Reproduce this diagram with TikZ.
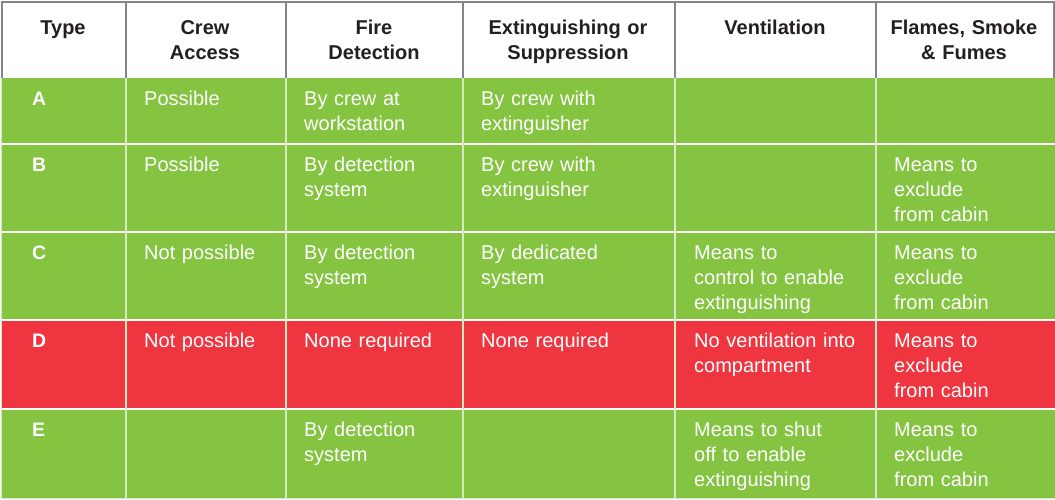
\documentclass[tikz,border=0pt]{standalone}
\usepackage{fontspec}
\setmainfont{Liberation Sans}
\definecolor{tgreen}{HTML}{84C441}
\definecolor{tred}{HTML}{EF3640}
\definecolor{tgray}{HTML}{858585}
\definecolor{tdark}{HTML}{231F20}
\definecolor{tsep}{HTML}{D3EBBE}
\begin{document}
\begin{tikzpicture}[x=1pt,y=-1pt,
  hdr/.style={font=\fontsize{20}{25}\selectfont\bfseries, text=tdark, align=center, anchor=base, inner sep=0pt, text width=#1},
  cell/.style={font=\fontsize{20}{25}\selectfont, text=white, align=left, anchor=base west, inner sep=0pt, text width=178pt},
  letter/.style={font=\fontsize{19.5}{25}\selectfont\bfseries, text=white, anchor=base west, inner sep=0pt},
  hline/.style={tgray, line width=1.3pt},
  bline/.style={white, line width=1.5pt},
  vline/.style={tsep, line width=1.5pt}]
\useasboundingbox (0,0) rectangle (1055,499);
\fill[white] (0,0) rectangle (1055,499);
% body fills
\fill[tgreen] (1,78) rectangle (1055,498);
\fill[tred] (1,320) rectangle (1055,409);
% body separators
\foreach \y in {144,232,320,409} \draw[bline] (1,\y) -- (1055,\y);
\foreach \x in {126,286,463,675,876} \draw[vline] (\x,78) -- (\x,498);
\draw[tsep, line width=1pt] (1.5,78) -- (1.5,498) -- (1055,498);
% header borders
\draw[hline] (2,78) -- (2,2) -- (1054,2) -- (1054,78);
\foreach \x in {126,286,463,675,876} \draw[hline] (\x,2) -- (\x,78);
% header texts
\node[hdr=120pt] (hType) at (63,34.5) {Type};
\node[hdr=156pt] (hCrew) at (205,34.5) {Crew\\Access};
\node[hdr=173pt] (hFire) at (374,34.5) {Fire\\Detection};
\node[hdr=208pt] (hExt) at (568,34.5) {Extinguishing or\\Suppression};
\node[hdr=196pt] (hVent) at (775,34.5) {Ventilation};
\node[hdr=176pt] (hFlame) at (964,34.5) {Flames, Smoke\\\& Fumes};
% row A
\node[letter] (lA) at (32,105) {A};
\node[cell] (a1) at (144,105) {Possible};
\node[cell] (a2) at (304,105) {By crew at\\workstation};
\node[cell] (a3) at (481,105) {By crew with\\extinguisher};
% row B
\node[letter] (lB) at (32,171) {B};
\node[cell] (b1) at (144,171) {Possible};
\node[cell] (b2) at (304,171) {By detection\\system};
\node[cell] (b3) at (481,171) {By crew with\\extinguisher};
\node[cell] (b5) at (894,171) {Means to\\exclude\\from cabin};
% row C
\node[letter] (lC) at (32,259) {C};
\node[cell] (c1) at (144,259) {Not possible};
\node[cell] (c2) at (304,259) {By detection\\system};
\node[cell] (c3) at (481,259) {By dedicated\\system};
\node[cell] (c4) at (694,259) {Means to\\control to enable\\extinguishing};
\node[cell] (c5) at (894,259) {Means to\\exclude\\from cabin};
% row D
\node[letter] (lD) at (32,347) {D};
\node[cell] (d1) at (144,347) {Not possible};
\node[cell] (d2) at (304,347) {None required};
\node[cell] (d3) at (481,347) {None required};
\node[cell] (d4) at (694,347) {No ventilation into\\compartment};
\node[cell] (d5) at (894,347) {Means to\\exclude\\from cabin};
% row E
\node[letter] (lE) at (32,436) {E};
\node[cell] (e2) at (304,436) {By detection\\system};
\node[cell] (e4) at (694,436) {Means to shut\\off to enable\\extinguishing};
\node[cell] (e5) at (894,436) {Means to\\exclude\\from cabin};
\end{tikzpicture}
\end{document}
